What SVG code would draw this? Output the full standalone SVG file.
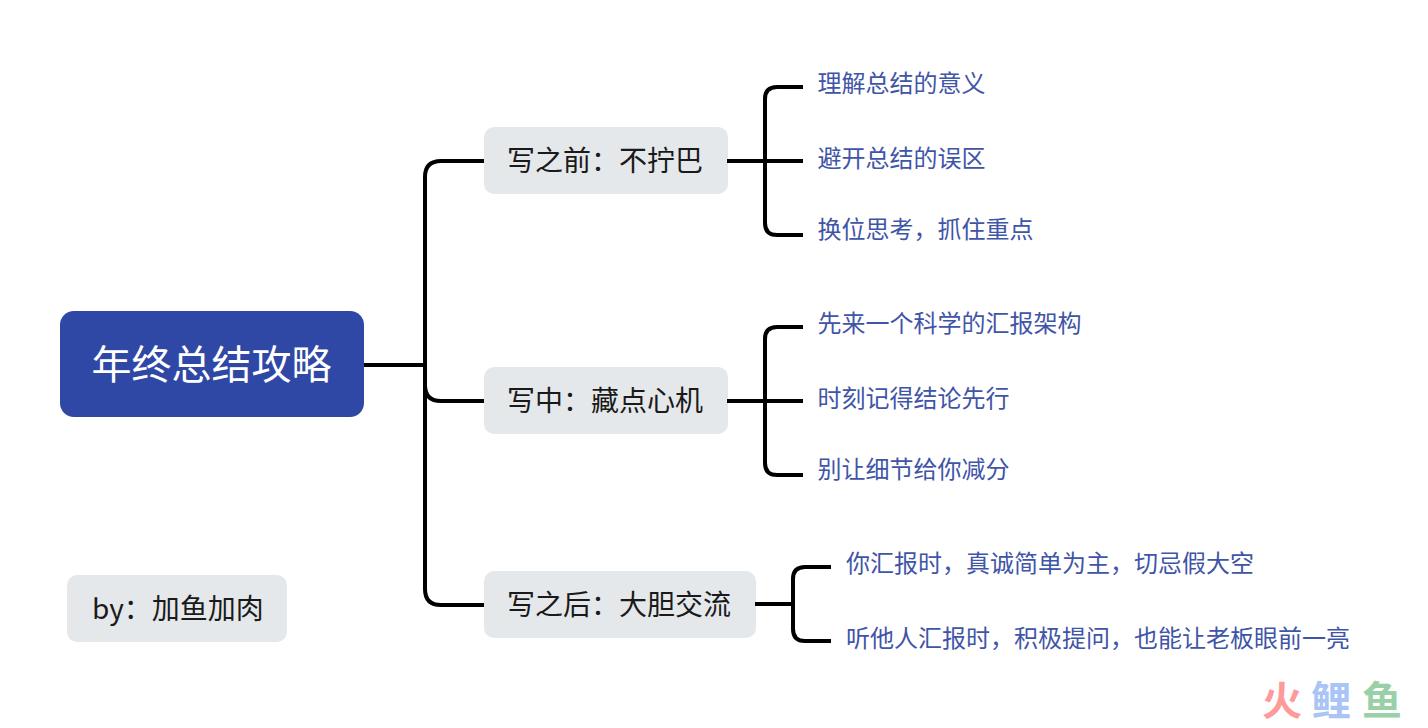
<svg xmlns="http://www.w3.org/2000/svg" width="1428" height="728" viewBox="0 0 1428 728">
<style>
text{font-family:"Noto Sans CJK SC","Noto Sans",sans-serif;dominant-baseline:central}
.l{fill:none;stroke:#000;stroke-width:4}
.b{fill:#e5e8eb}
.t2{font-size:28px;fill:#1a1a1a}
.t3{font-size:24px;fill:#3f55a8}
</style>
<rect width="1428" height="728" fill="#fff"/>
<g id="root"><rect x="60" y="311" width="304" height="106" rx="14" fill="#3048a5"/><text x="211.5" y="362" text-anchor="middle" font-size="40" fill="#fff">年终总结攻略</text></g>
<g id="n1"><rect class="b" x="484" y="127" width="244" height="67" rx="10"/><text class="t2" x="507" y="159">写之前：不拧巴</text></g>
<g id="n2"><rect class="b" x="484" y="367" width="244" height="67" rx="10"/><text class="t2" x="507" y="399">写中：藏点心机</text></g>
<g id="n3"><rect class="b" x="484" y="571" width="272" height="67" rx="10"/><text class="t2" x="507" y="603">写之后：大胆交流</text></g>
<g id="by"><rect class="b" x="67" y="575" width="220" height="67" rx="10"/><text class="t2" x="92" y="607">by：加鱼加肉</text></g>
<g id="a1"><text class="t3" x="817.5" y="81">理解总结的意义</text></g>
<g id="a2"><text class="t3" x="817.5" y="156">避开总结的误区</text></g>
<g id="a3"><text class="t3" x="817.5" y="227">换位思考，抓住重点</text></g>
<g id="b1"><text class="t3" x="817.5" y="321">先来一个科学的汇报架构</text></g>
<g id="b2"><text class="t3" x="817.5" y="396">时刻记得结论先行</text></g>
<g id="b3"><text class="t3" x="817.5" y="467">别让细节给你减分</text></g>
<g id="c1"><text class="t3" x="846" y="561">你汇报时，真诚简单为主，切忌假大空</text></g>
<g id="c2"><text class="t3" x="846" y="636">听他人汇报时，积极提问，也能让老板眼前一亮</text></g>
<g id="watermark" font-size="40" font-weight="700"><text x="1262" y="698" fill="#ff9a9a">火</text><text x="1311" y="698" fill="#a9c4f5">鲤</text><text x="1362" y="698" fill="#9ad0a8">鱼</text></g>
<g id="connectors">
<path class="l" d="M364 365H425M484 161H441Q425 161 425 177V589Q425 605 441 605H484M425 385Q425 401 441 401H484"/>
<path class="l" d="M727 161H765M803 87H777Q765 87 765 99V223Q765 235 777 235H803M765 161H803"/>
<path class="l" d="M727 401H765M803 327H777Q765 327 765 339V463Q765 475 777 475H803M765 401H803"/>
<path class="l" d="M755 604H793M831 567H805Q793 567 793 579V629Q793 641 805 641H831"/>
</g>
</svg>
